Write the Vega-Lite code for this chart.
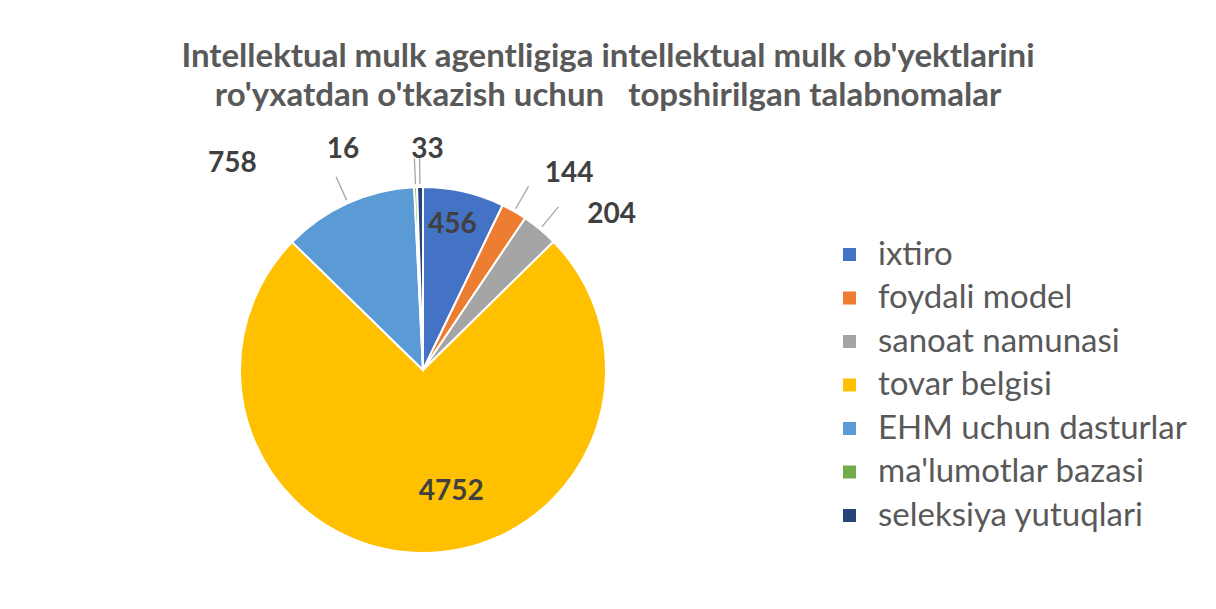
{
  "$schema": "https://vega.github.io/schema/vega-lite/v6.json",
  "width": 846,
  "height": 478,
  "autosize": {"type": "none"},
  "padding": {"left": 0, "top": 131, "right": 370, "bottom": 0},
  "background": "white",
  "config": {"view": {"stroke": null}},
  "title": {
    "text": ["Intellektual mulk agentligiga intellektual mulk ob'yektlarini", "ro'yxatdan o'tkazish uchun \u00a0 topshirilgan talabnomalar"],
    "font": "Lato",
    "fontSize": 33,
    "fontWeight": "bold",
    "color": "#595959",
    "anchor": "middle",
    "frame": "group",
    "dx": 185,
    "dy": 19,
    "offset": 0,
    "baseline": "bottom",
    "lineHeight": 39
  },
  "data": {
    "values": [
      {"category": "ixtiro", "value": 456, "idx": 1},
      {"category": "foydali model", "value": 144, "idx": 2},
      {"category": "\u00a0sanoat namunasi", "value": 204, "idx": 3},
      {"category": "tovar belgisi", "value": 4752, "idx": 4},
      {"category": "\u00a0EHM uchun dasturlar", "value": 758, "idx": 5},
      {"category": "\u00a0ma'lumotlar bazasi", "value": 16, "idx": 6},
      {"category": "seleksiya yutuqlari", "value": 33, "idx": 7}
    ]
  },
  "encoding": {
    "theta": {"field": "value", "type": "quantitative", "stack": true},
    "order": {"field": "idx", "type": "quantitative"}
  },
  "layer": [
    {
      "mark": {"type": "arc", "outerRadius": 183, "stroke": "white", "strokeWidth": 2},
      "encoding": {
        "color": {
          "field": "category",
          "type": "nominal",
          "sort": ["ixtiro", "foydali model", "\u00a0sanoat namunasi", "tovar belgisi", "\u00a0EHM uchun dasturlar", "\u00a0ma'lumotlar bazasi", "seleksiya yutuqlari"],
          "scale": {
            "domain": ["ixtiro", "foydali model", "\u00a0sanoat namunasi", "tovar belgisi", "\u00a0EHM uchun dasturlar", "\u00a0ma'lumotlar bazasi", "seleksiya yutuqlari"],
            "range": ["#4472C4", "#ED7D31", "#A5A5A5", "#FFC000", "#5B9BD5", "#70AD47", "#264478"]
          },
          "legend": {
            "orient": "none",
            "legendX": 833,
            "legendY": 107,
            "title": null,
            "padding": 0,
            "symbolType": "square",
            "symbolSize": 169,
            "symbolStrokeWidth": 0,
            "symbolOpacity": 1,
            "labelFont": "Lato",
            "labelFontSize": 33,
            "labelColor": "#595959",
            "labelOffset": 12,
            "labelLimit": 400,
            "rowPadding": 9.5
          }
        }
      }
    },
    {
      "mark": {"type": "arc", "innerRadius": 186, "outerRadius": 212, "padAngle": 0.8, "filled": false, "strokeWidth": 1.3},
      "encoding": {
        "color": {"value": "#A6A6A6"},
        "strokeOpacity": {"condition": {"test": "datum.idx == 1 || datum.idx == 4", "value": 0}, "value": 1}
      }
    },
    {
      "mark": {"type": "text", "radius": 149, "dx": -4, "font": "Lato", "fontSize": 28, "fontWeight": "bold"},
      "encoding": {"color": {"value": "#404040"}, "text": {"condition": {"test": "datum.idx == 1", "field": "value", "type": "quantitative"}, "value": ""}}
    },
    {
      "mark": {"type": "text", "radius": 122, "dx": 28, "font": "Lato", "fontSize": 28, "fontWeight": "bold"},
      "encoding": {"color": {"value": "#404040"}, "text": {"condition": {"test": "datum.idx == 4", "field": "value", "type": "quantitative"}, "value": ""}}
    },
    {
      "mark": {"type": "text", "radius": 245, "dx": 24, "dy": 16, "font": "Lato", "fontSize": 28, "fontWeight": "bold"},
      "encoding": {"color": {"value": "#404040"}, "text": {"condition": {"test": "datum.idx == 2", "field": "value", "type": "quantitative"}, "value": ""}}
    },
    {
      "mark": {"type": "text", "radius": 245, "dx": 32, "dy": 33, "font": "Lato", "fontSize": 28, "fontWeight": "bold"},
      "encoding": {"color": {"value": "#404040"}, "text": {"condition": {"test": "datum.idx == 3", "field": "value", "type": "quantitative"}, "value": ""}}
    },
    {
      "mark": {"type": "text", "radius": 250, "dx": -88, "dy": 22, "font": "Lato", "fontSize": 28, "fontWeight": "bold"},
      "encoding": {"color": {"value": "#404040"}, "text": {"condition": {"test": "datum.idx == 5", "field": "value", "type": "quantitative"}, "value": ""}}
    },
    {
      "mark": {"type": "text", "radius": 220, "dx": -71, "font": "Lato", "fontSize": 28, "fontWeight": "bold"},
      "encoding": {"color": {"value": "#404040"}, "text": {"condition": {"test": "datum.idx == 6", "field": "value", "type": "quantitative"}, "value": ""}}
    },
    {
      "mark": {"type": "text", "radius": 220, "dx": 8, "font": "Lato", "fontSize": 28, "fontWeight": "bold"},
      "encoding": {"color": {"value": "#404040"}, "text": {"condition": {"test": "datum.idx == 7", "field": "value", "type": "quantitative"}, "value": ""}}
    }
  ]
}
